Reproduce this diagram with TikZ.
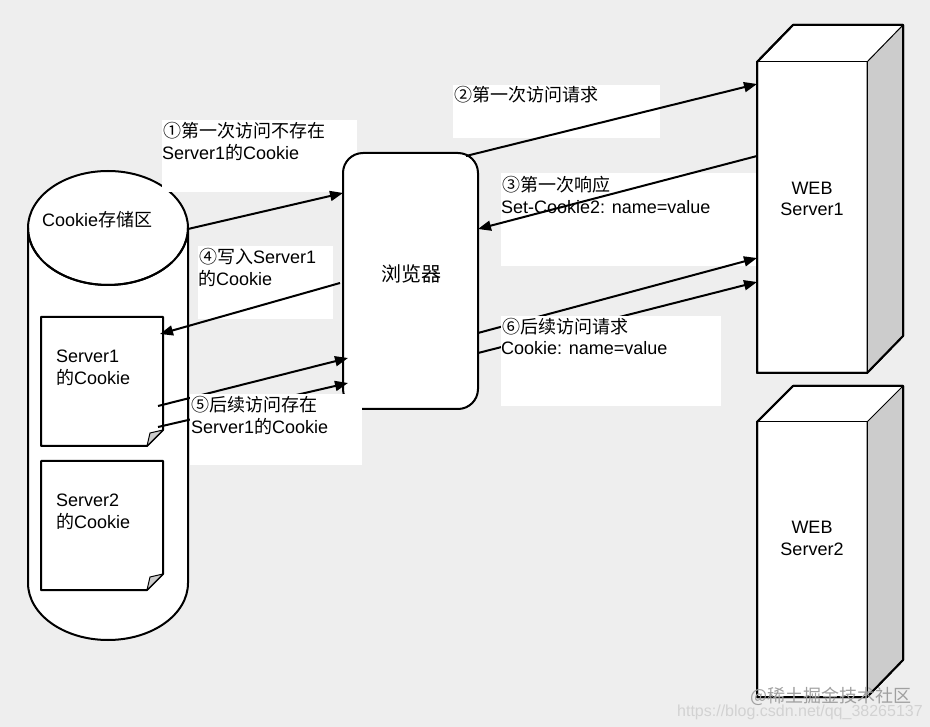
\documentclass[tikz,border=0pt]{standalone}
\usepackage{fontspec}
\setmainfont{Liberation Sans}
\newfontfamily\cjkfont{Noto Sans CJK SC}
\usetikzlibrary{arrows.meta}
\newcommand\zh[1]{{\cjkfont #1}}
\definecolor{bg}{HTML}{EEEEEE}
\definecolor{sidegray}{HTML}{CCCCCC}
\definecolor{wmark}{HTML}{A0A0A0}
\definecolor{wmarkurl}{HTML}{D2D2D2}
\begin{document}
\begin{tikzpicture}[x=1pt,y=-1pt,line join=round,
  lbl/.style={font=\fontsize{18}{21.5}\selectfont, inner sep=0pt, anchor=base west},
  ctr/.style={font=\fontsize{18}{21.5}\selectfont, inner sep=0pt, anchor=base},
  outline/.style={draw=black, line width=2pt, fill=white},
  thin/.style={draw=black, line width=1pt},
  labelbg/.style={fill=white},
  conn/.style={line width=2pt, -{Triangle[length=13pt,width=10pt]}}]
% background
\fill[bg] (0,0) rectangle (930,727);
\useasboundingbox (0,0) rectangle (930,727);
% cylinder (Cookie store)
\path[outline] (28,228) -- (28,583) arc[start angle=180,end angle=0,x radius=80,y radius=57] -- (188,228);
\path[outline] (108,228) ellipse[x radius=80, y radius=57];
\draw[line width=2pt] (28,228) arc[start angle=180,end angle=150,x radius=80,y radius=57];
\draw[line width=2pt] (46.7,264.6) arc[start angle=140,end angle=37,x radius=80,y radius=57];
\draw[line width=2pt] (188,228) arc[start angle=0,end angle=29,x radius=80,y radius=57];
\node[lbl] (store) at (42,227) {Cookie\zh{存储区}};
% documents
\path[outline] (41,317) -- (163,317) -- (163,430) -- (147,446) -- (41,446) -- cycle;
\path[thin, fill=sidegray] (163,430) -- (150,433) -- (147,446) -- cycle;
\node[lbl] (d1a) at (56,363) {Server1};
\node[lbl] (d1b) at (56,385) {\zh{的}Cookie};
\path[outline] (41,461) -- (163,461) -- (163,574) -- (147,590) -- (41,590) -- cycle;
\path[thin, fill=sidegray] (163,574) -- (150,577) -- (147,590) -- cycle;
\node[lbl] (d2a) at (56,507) {Server2};
\node[lbl] (d2b) at (56,529) {\zh{的}Cookie};
% label 1 box (under browser)
\fill[labelbg] (162,120) rectangle (357,192);
\node[lbl] (t1a) at (163,138) {\zh{①第一次访问不存在}};
\node[lbl] (t1b) at (162,160) {Server1\zh{的}Cookie};
% browser
\node[outline, rounded corners=20pt, minimum width=135pt, minimum height=256pt, inner sep=0pt] (browser) at (410.5,281) {};
\node[ctr, font=\fontsize{20}{24}\selectfont] (browsertxt) at (411.5,282) {\zh{浏览器}};
% servers
\path[outline] (757,62) -- (793,25) -- (903,25) -- (903,336) -- (867,373) -- (757,373) -- cycle;
\path[thin, fill=sidegray] (867,62) -- (903,25) -- (903,336) -- (867,373) -- cycle;
\draw[line width=2pt] (757,62) -- (793,25) -- (903,25) -- (903,336) -- (867,373) -- (757,373) -- cycle;
\draw[line width=1pt] (757,62) -- (867,62) -- (867,373);
\node[ctr] (s1a) at (812,194.5) {WEB};
\node[ctr] (s1b) at (812,216) {Server1};
\path[outline] (757,422) -- (793,386) -- (903,386) -- (903,660) -- (867,697) -- (757,697) -- cycle;
\path[thin, fill=sidegray] (867,422) -- (903,386) -- (903,660) -- (867,697) -- cycle;
\draw[line width=2pt] (757,422) -- (793,386) -- (903,386) -- (903,660) -- (867,697) -- (757,697) -- cycle;
\draw[line width=1pt] (757,422) -- (867,422) -- (867,697);
\node[ctr] (s2a) at (812,533.5) {WEB};
\node[ctr] (s2b) at (812,555) {Server2};
% label boxes under arrows
\fill[labelbg] (453,85) rectangle (660,138);
\node[lbl] (t2a) at (454,102) {\zh{②第一次访问请求}};
\fill[labelbg] (501,173) rectangle (756,266);
\node[lbl] (t3a) at (502,192) {\zh{③第一次响应}};
\node[lbl] (t3b) at (501,213.5) {Set-Cookie2: name=value};
\fill[labelbg] (198,246) rectangle (333,319);
\node[lbl] (t4a) at (199,264) {\zh{④写入}Server1};
\node[lbl] (t4b) at (198,285.5) {\zh{的}Cookie};
% connector end points
\coordinate (a1s) at (188,229); \coordinate (a1e) at (343,193);
\coordinate (a2s) at (466,156); \coordinate (a2e) at (757,84);
\coordinate (a3s) at (757,156); \coordinate (a3e) at (478,229);
\coordinate (a4s) at (340,283); \coordinate (a4e) at (160,334);
\coordinate (a5s) at (158,406); \coordinate (a5e) at (348,358);
\coordinate (b5s) at (158,427); \coordinate (b5e) at (348,383);
\coordinate (a6s) at (478,333); \coordinate (a6e) at (757,258);
\coordinate (b6s) at (478,353); \coordinate (b6e) at (757,282);
\draw[conn] (a1s) -- (a1e);
\draw[conn] (a2s) -- (a2e);
\draw[conn] (a3s) -- (a3e);
\draw[conn] (a4s) -- (a4e);
\draw[conn] (a5s) -- (a5e);
\draw[conn] (b5s) -- (b5e);
\draw[conn] (a6s) -- (a6e);
\draw[conn] (b6s) -- (b6e);
% label boxes over arrows
\fill[labelbg] (190,394) rectangle (362,465);
\node[lbl] (t5a) at (191,412) {\zh{⑤后续访问存在}};
\node[lbl] (t5b) at (191,433.5) {Server1\zh{的}Cookie};
\fill[labelbg] (501,316) rectangle (721,406);
\node[lbl] (t6a) at (502,334) {\zh{⑥后续访问请求}};
\node[lbl] (t6b) at (501,355) {Cookie: name=value};
% watermark
\node[lbl, text=wmark] (wm1) at (750,702) {\zh{@稀土掘金技术社区}};
\node[lbl, text=wmarkurl, font=\fontsize{16}{19}\selectfont] (wm2) at (677,716) {https://blog.csdn.net/qq\_38265137};
\end{tikzpicture}
\end{document}
